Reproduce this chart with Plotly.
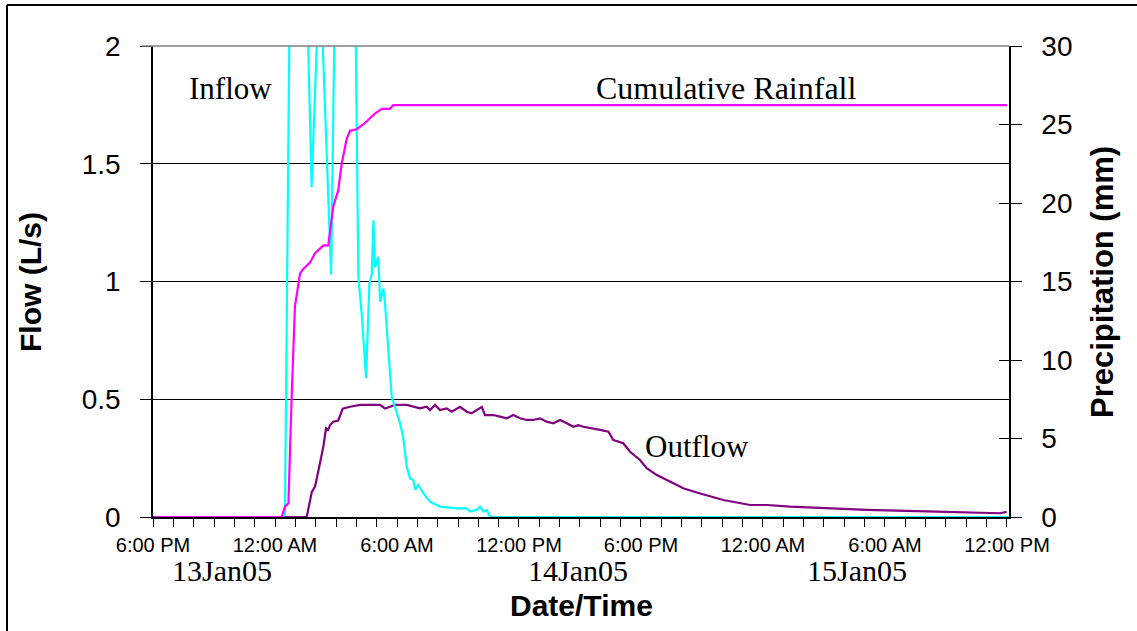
import plotly.graph_objects as go

# ---- data (x = hours since 6:00 PM, 12 Jan 2005) ----
inflow_h = [0, 6.41, 6.49, 6.85, 7.3, 7.80, 8.2, 8.76, 9.1, 9.85, 10.10, 10.26, 10.48, 10.64,
            10.76, 10.84, 10.92, 11.08, 11.17, 11.33, 11.41, 11.74, 11.90, 12.15, 12.31, 12.48,
            12.64, 12.80, 12.89, 13.05, 13.30, 13.62, 14.11, 14.94, 15.43, 15.59, 15.92, 16.08,
            16.25, 16.41, 16.58, 42.1]
inflow_q = [0, 0, 0.02, 3.4, 3.2, 1.40, 2.35, 1.03, 3.2, 3.0, 1.02, 0.865, 0.59, 0.99,
            1.03, 1.26, 1.06, 1.105, 0.914, 0.97, 0.907, 0.51, 0.468, 0.398, 0.334, 0.214,
            0.164, 0.157, 0.115, 0.136, 0.10, 0.065, 0.044, 0.037, 0.037, 0.023, 0.03, 0.044,
            0.023, 0.03, 0, 0]

outflow_h = [0, 7.56, 7.81, 7.97, 8.21, 8.38, 8.51, 8.62, 8.71, 8.87, 9.11, 9.33, 9.69, 10.18,
             11.16, 11.41, 11.66, 11.90, 12.48, 12.80, 13.13, 13.46, 13.62, 13.87, 14.11, 14.44,
             14.69, 15.10, 15.43, 15.67, 15.92, 16.17, 16.33, 16.74, 17.07, 17.40, 17.72, 18.05,
             18.38, 18.70, 19.03, 19.36, 19.69, 20.02, 20.35, 20.67, 20.92, 21.17, 21.99, 22.40,
             22.64, 23.13, 23.46, 23.95, 24.28, 24.78, 25.27, 26.08, 26.91, 28.05, 29.37, 30.19,
             31.34, 32.97, 34.28, 35.11, 37.57, 40.02, 40.84, 41.66, 41.98]
outflow_q = [0, 0, 0.107, 0.129, 0.228, 0.30, 0.377, 0.37, 0.39, 0.405, 0.41, 0.46, 0.468, 0.476,
             0.476, 0.461, 0.468, 0.476, 0.476, 0.468, 0.461, 0.468, 0.454, 0.476, 0.454, 0.461,
             0.447, 0.468, 0.447, 0.440, 0.454, 0.468, 0.433, 0.433, 0.426, 0.419, 0.433, 0.419,
             0.412, 0.412, 0.419, 0.405, 0.398, 0.412, 0.398, 0.383, 0.39, 0.383, 0.37, 0.362,
             0.327, 0.313, 0.277, 0.242, 0.207, 0.178, 0.157, 0.122, 0.10, 0.072, 0.051, 0.051,
             0.044, 0.037, 0.033, 0.030, 0.025, 0.02, 0.018, 0.016, 0.022]

rain_h = [0, 6.33, 6.49, 6.66, 6.82, 6.98, 7.23, 7.39, 7.72, 7.97, 8.38, 8.62, 8.87, 9.11,
          9.28, 9.53, 9.69, 10.02, 10.34, 10.67, 10.92, 11.25, 11.65, 11.82, 42.0]
rain_mm = [0, 0, 0.66, 0.87, 7.66, 13.4, 15.5, 15.8, 16.2, 16.8, 17.3, 17.3, 19.8, 20.8,
           22.5, 24.1, 24.6, 24.7, 25.0, 25.4, 25.7, 26.0, 26.0, 26.24, 26.24]

tick_hours = list(range(0, 43))
major_labels = {0: "6:00 PM", 6: "12:00 AM", 12: "6:00 AM", 18: "12:00 PM",
                24: "6:00 PM", 30: "12:00 AM", 36: "6:00 AM", 42: "12:00 PM"}
date_labels = ["13Jan05", "14Jan05", "15Jan05"]
date_label_px = [222, 578, 857]

# ---- layout geometry ----
W, H = 1137, 631
L, R, T, B = 153, 1009, 46, 517
pw, ph = R - L, B - T


def px(x):
    return (x - L) / pw


def py(y):
    return (B - y) / ph


SANS = "Arial, Liberation Sans, sans-serif"
SERIF = "Times New Roman, Liberation Serif, serif"

fig = go.Figure()
fig.add_trace(go.Scatter(x=outflow_h, y=outflow_q, mode="lines", name="Outflow",
                         line=dict(color="#800080", width=2.2), yaxis="y"))
fig.add_trace(go.Scatter(x=inflow_h, y=inflow_q, mode="lines", name="Inflow",
                         line=dict(color="#00FFFF", width=2.2), yaxis="y"))
fig.add_trace(go.Scatter(x=rain_h, y=rain_mm, mode="lines", name="Cumulative Rainfall",
                         line=dict(color="#FF00FF", width=2.2), yaxis="y2"))

ticktext = [major_labels.get(h, "") for h in tick_hours]

fig.update_layout(
    width=W, height=H,
    margin=dict(l=L, r=W - R, t=T, b=H - B, pad=0),
    paper_bgcolor="white", plot_bgcolor="white",
    showlegend=False,
    xaxis=dict(range=[0, 856 / 20.333], tickmode="array", tickvals=tick_hours, ticktext=ticktext,
               ticks="outside", ticklen=8, tickcolor="black", tickwidth=1,
               showline=True, linecolor="black", linewidth=1.5, showgrid=False, zeroline=False,
               tickfont=dict(family=SANS, size=20, color="black"), ticklabelstandoff=1),
    yaxis=dict(range=[0, 2], tickvals=[0, 0.5, 1, 1.5, 2], ticktext=["0", "0.5", "1", "1.5", "2"],
               ticks="outside", ticklen=11, tickcolor="black",
               showline=True, linecolor="black", linewidth=1.5,
               showgrid=True, gridcolor="black", gridwidth=1, zeroline=False,
               tickfont=dict(family=SANS, size=28, color="black"), ticklabelstandoff=14),
    yaxis2=dict(range=[0, 30], tickvals=[0, 5, 10, 15, 20, 25, 30], overlaying="y", side="right",
                anchor="x", ticks="outside", ticklen=11, tickcolor="black",
                showline=True, linecolor="black", linewidth=1.5, showgrid=False, zeroline=False,
                tickfont=dict(family=SANS, size=28, color="black"), ticklabelstandoff=14),
    yaxis3=dict(range=[0, 30], tickvals=[0, 5, 10, 15, 20, 25, 30], overlaying="y", side="right",
                anchor="x", ticks="inside", ticklen=10, tickcolor="black",
                showticklabels=False, showline=False, showgrid=False, zeroline=False),
)
# invisible trace so the inside-tick overlay axis is drawn
fig.add_trace(go.Scatter(x=[0], y=[0], yaxis="y3", mode="markers",
                         marker=dict(opacity=0), hoverinfo="skip", showlegend=False))

ann = []
ann.append(dict(text="Inflow", x=px(230), y=py(88), font=dict(family=SERIF, size=31)))
ann.append(dict(text="Cumulative Rainfall", x=px(726), y=py(88), font=dict(family=SERIF, size=32)))
ann.append(dict(text="Outflow", x=px(697), y=py(446), font=dict(family=SERIF, size=31)))
for lab, xp in zip(date_labels, date_label_px):
    ann.append(dict(text=lab, x=px(xp), y=py(570), font=dict(family=SERIF, size=30)))
ann.append(dict(text="<b>Date/Time</b>", x=px(581), y=py(605), font=dict(family=SANS, size=30)))
ann.append(dict(text="<b>Flow (L/s)</b>", x=px(30), y=py(282), textangle=-90,
                font=dict(family=SANS, size=30)))
ann.append(dict(text="<b>Precipitation (mm)</b>", x=px(1102), y=py(282), textangle=-90,
                font=dict(family=SANS, size=31)))
for a in ann:
    a.update(xref="paper", yref="paper", showarrow=False, xanchor="center", yanchor="middle")
    a["font"]["color"] = "black"
fig.update_layout(annotations=ann)

fig.update_layout(shapes=[
    dict(type="line", xref="paper", yref="paper", x0=px(142), x1=1, y0=1, y1=1,
         line=dict(color="#808080", width=1.5)),
    dict(type="line", xref="paper", yref="paper", x0=px(7), x1=px(7), y0=py(5), y1=py(640),
         line=dict(color="black", width=2)),
    dict(type="line", xref="paper", yref="paper", x0=px(7), x1=px(1140), y0=py(5), y1=py(5),
         line=dict(color="black", width=2)),
])

fig.write_html("out.html", config={"displayModeBar": False},
               post_script="document.body.style.margin='0';")
